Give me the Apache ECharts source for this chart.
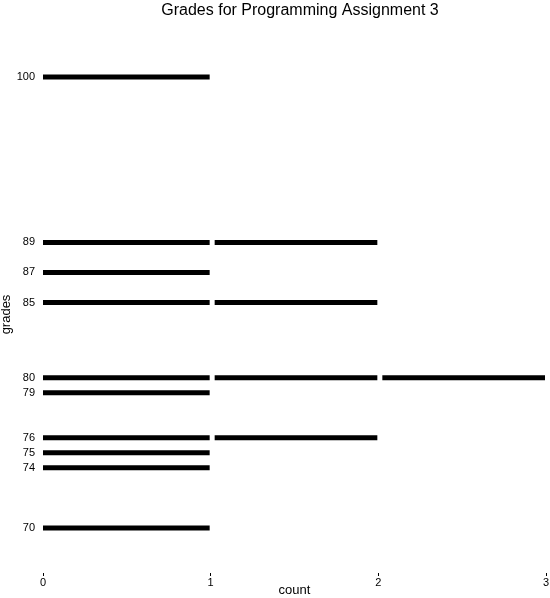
<!DOCTYPE html>
<html>
<head>
<meta charset="utf-8">
<script src="https://cdn.jsdelivr.net/npm/echarts@6/dist/echarts.min.js"></script>
<style>html,body{margin:0;padding:0;background:#fff;}#c{width:550px;height:598px;}</style>
</head>
<body>
<div id="c"></div>
<script>
var grades = [70, 74, 75, 76, 79, 80, 85, 87, 89, 100];
var counts = [1, 1, 1, 2, 1, 3, 2, 1, 2, 1];
var countTicks = [0, 1, 2, 3];

var segs = [];
for (var i = 0; i < grades.length; i++) {
  for (var k = 0; k < counts[i]; k++) {
    segs.push([k, k + 1, grades[i]]);
  }
}

var chart = echarts.init(document.getElementById('c'), null, {renderer: 'canvas'});
chart.setOption({
  animation: false,
  backgroundColor: '#ffffff',
  textStyle: {fontFamily: 'Liberation Sans, Arial, sans-serif', color: '#000'},
  title: {
    text: 'Grades for Programming Assignment 3',
    left: 295, top: -2, textAlign: 'center',
    textStyle: {fontFamily: 'Liberation Sans', fontSize: 16, fontWeight: 'normal', color: '#000'}
  },
  grid: {left: 43, right: 4, top: 32, bottom: 25, containLabel: false, outerBoundsMode: 'none'},
  xAxis: {
    type: 'value', min: 0, max: 3, interval: 1,
    name: 'count', nameLocation: 'middle', nameGap: 11, nameMoveOverlap: false,
    nameTextStyle: {fontFamily: 'Liberation Sans', fontSize: 13, color: '#000'},
    axisLine: {show: false},
    axisTick: {show: true, length: 3, lineStyle: {color: '#000', width: 1}},
    splitLine: {show: false},
    axisLabel: {margin: 4, fontFamily: 'Liberation Sans', fontSize: 11, color: '#000',
      customValues: countTicks}
  },
  yAxis: {
    type: 'value', min: 67, max: 103,
    name: 'grades', nameLocation: 'middle', nameGap: 30, nameRotate: 90, nameMoveOverlap: false,
    nameTextStyle: {fontFamily: 'Liberation Sans', fontSize: 13, color: '#000', padding: [0, 24, 0, 0]},
    axisLine: {show: false},
    axisTick: {show: false},
    splitLine: {show: false},
    axisLabel: {margin: 8, fontFamily: 'Liberation Sans', fontSize: 11, color: '#000',
      customValues: grades}
  },
  series: [{
    type: 'custom',
    data: segs,
    encode: {x: [0, 1], y: 2},
    renderItem: function (params, api) {
      var x0 = api.value(0), x1 = api.value(1), y = api.value(2);
      var p0 = api.coord([x0, y]);
      var p1 = api.coord([x1, y]);
      return {
        type: 'line',
        shape: {x1: p0[0] + (x0 > 0 ? 4 : 0), y1: p0[1], x2: p1[0] - 1, y2: p1[1]},
        style: {stroke: '#000', lineWidth: 5}
      };
    }
  }]
});
</script>
</body>
</html>
